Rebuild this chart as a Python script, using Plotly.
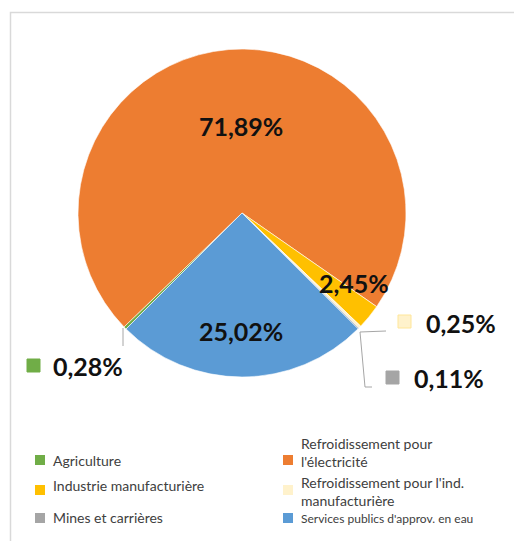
import plotly.graph_objects as go

# Water withdrawals by use (share of total, %)
categories = [
    "Agriculture",
    "Refroidissement pour<br>l'électricité",
    "Industrie manufacturière",
    "Refroidissement pour l'ind.<br>manufacturière",
    "Mines et carrières",
    "Services publics d'approv. en eau",
]
shares = [0.28, 71.89, 2.45, 0.25, 0.11, 25.02]
colors = ["#70AD47", "#ED7D31", "#FFC000", "#FFF2CC", "#A5A5A5", "#5B9BD5"]

W, H = 514, 541


def px(x):
    return x / W


def py(y):
    return 1 - y / H


def pct(v):
    return f"{v:.2f}".replace(".", ",") + "%"


cx, cy, r = 242, 213, 164

fig = go.Figure(
    go.Pie(
        labels=[c.replace("<br>", " ") for c in categories],
        values=shares,
        sort=False,
        direction="clockwise",
        rotation=225,
        marker=dict(colors=colors, line=dict(color="white", width=0.6)),
        textinfo="none",
        hoverinfo="label+percent",
        showlegend=False,
        domain=dict(x=[px(cx - r), px(cx + r)], y=[py(cy + r), py(cy - r)]),
    )
)

label_font = dict(family="Lato", size=25, color="#111111", weight="bold")

# Value labels: (slice index, x, y, anchor)
value_labels = [
    (1, 241, 126, "center"),
    (5, 241, 331, "center"),
    (2, 354, 283, "center"),
    (3, 424, 323, "left"),
    (4, 412, 378, "left"),
    (0, 51, 366, "left"),
]
for i, x, y, anchor in value_labels:
    fig.add_annotation(
        x=px(x), y=py(y), xref="paper", yref="paper",
        text=pct(shares[i]), showarrow=False, xanchor=anchor, yanchor="middle",
        font=label_font,
    )

# Key squares beside the small-slice labels
keys = [(0, 27, 359), (3, 398, 315), (4, 386, 371)]
for i, x, y in keys:
    fig.add_shape(
        type="rect", xref="paper", yref="paper",
        x0=px(x), x1=px(x + 13), y0=py(y + 13), y1=py(y),
        fillcolor=colors[i],
        line=dict(color="#FFE699" if i == 3 else colors[i], width=1),
    )

# Leader lines
leader = dict(color="#A6A6A6", width=1)
for pts in [
    [(123, 328), (123, 346)],
    [(360, 332), (386, 331)],
    [(360, 332), (365, 387), (372, 387)],
]:
    path = "M " + " L ".join(f"{px(x)},{py(y)}" for x, y in pts)
    fig.add_shape(type="path", xref="paper", yref="paper", path=path, line=leader)

# Two-column legend below the pie: (swatch x, swatch top y, text centre y, font size)
legend_slots = [
    (35, 455, 460, 14),
    (283, 455, 452, 14),
    (35, 485, 485, 14),
    (283, 485, 491, 14),
    (35, 513, 517, 14),
    (283, 513, 518, 12),
]
for i, (sx, sy, ty, fs) in enumerate(legend_slots):
    fig.add_shape(
        type="rect", xref="paper", yref="paper",
        x0=px(sx), x1=px(sx + 10), y0=py(sy + 10), y1=py(sy),
        fillcolor=colors[i], line=dict(width=0),
    )
    fig.add_annotation(
        x=px(sx + 16), y=py(ty), xref="paper", yref="paper",
        text=categories[i], showarrow=False, xanchor="left", yanchor="middle",
        align="left",
        font=dict(family="Lato", size=fs, color="#404040"),
    )

# Chart frame
fig.add_shape(
    type="rect", xref="paper", yref="paper",
    x0=px(10.5), x1=px(W + 20), y0=py(H + 20), y1=py(12.5),
    line=dict(color="#D9D9D9", width=1.5), fillcolor="rgba(0,0,0,0)",
)

fig.update_layout(
    width=W, height=H,
    margin=dict(l=0, r=0, t=0, b=0),
    paper_bgcolor="white",
    plot_bgcolor="white",
    showlegend=False,
)

fig.write_html("out.html")
